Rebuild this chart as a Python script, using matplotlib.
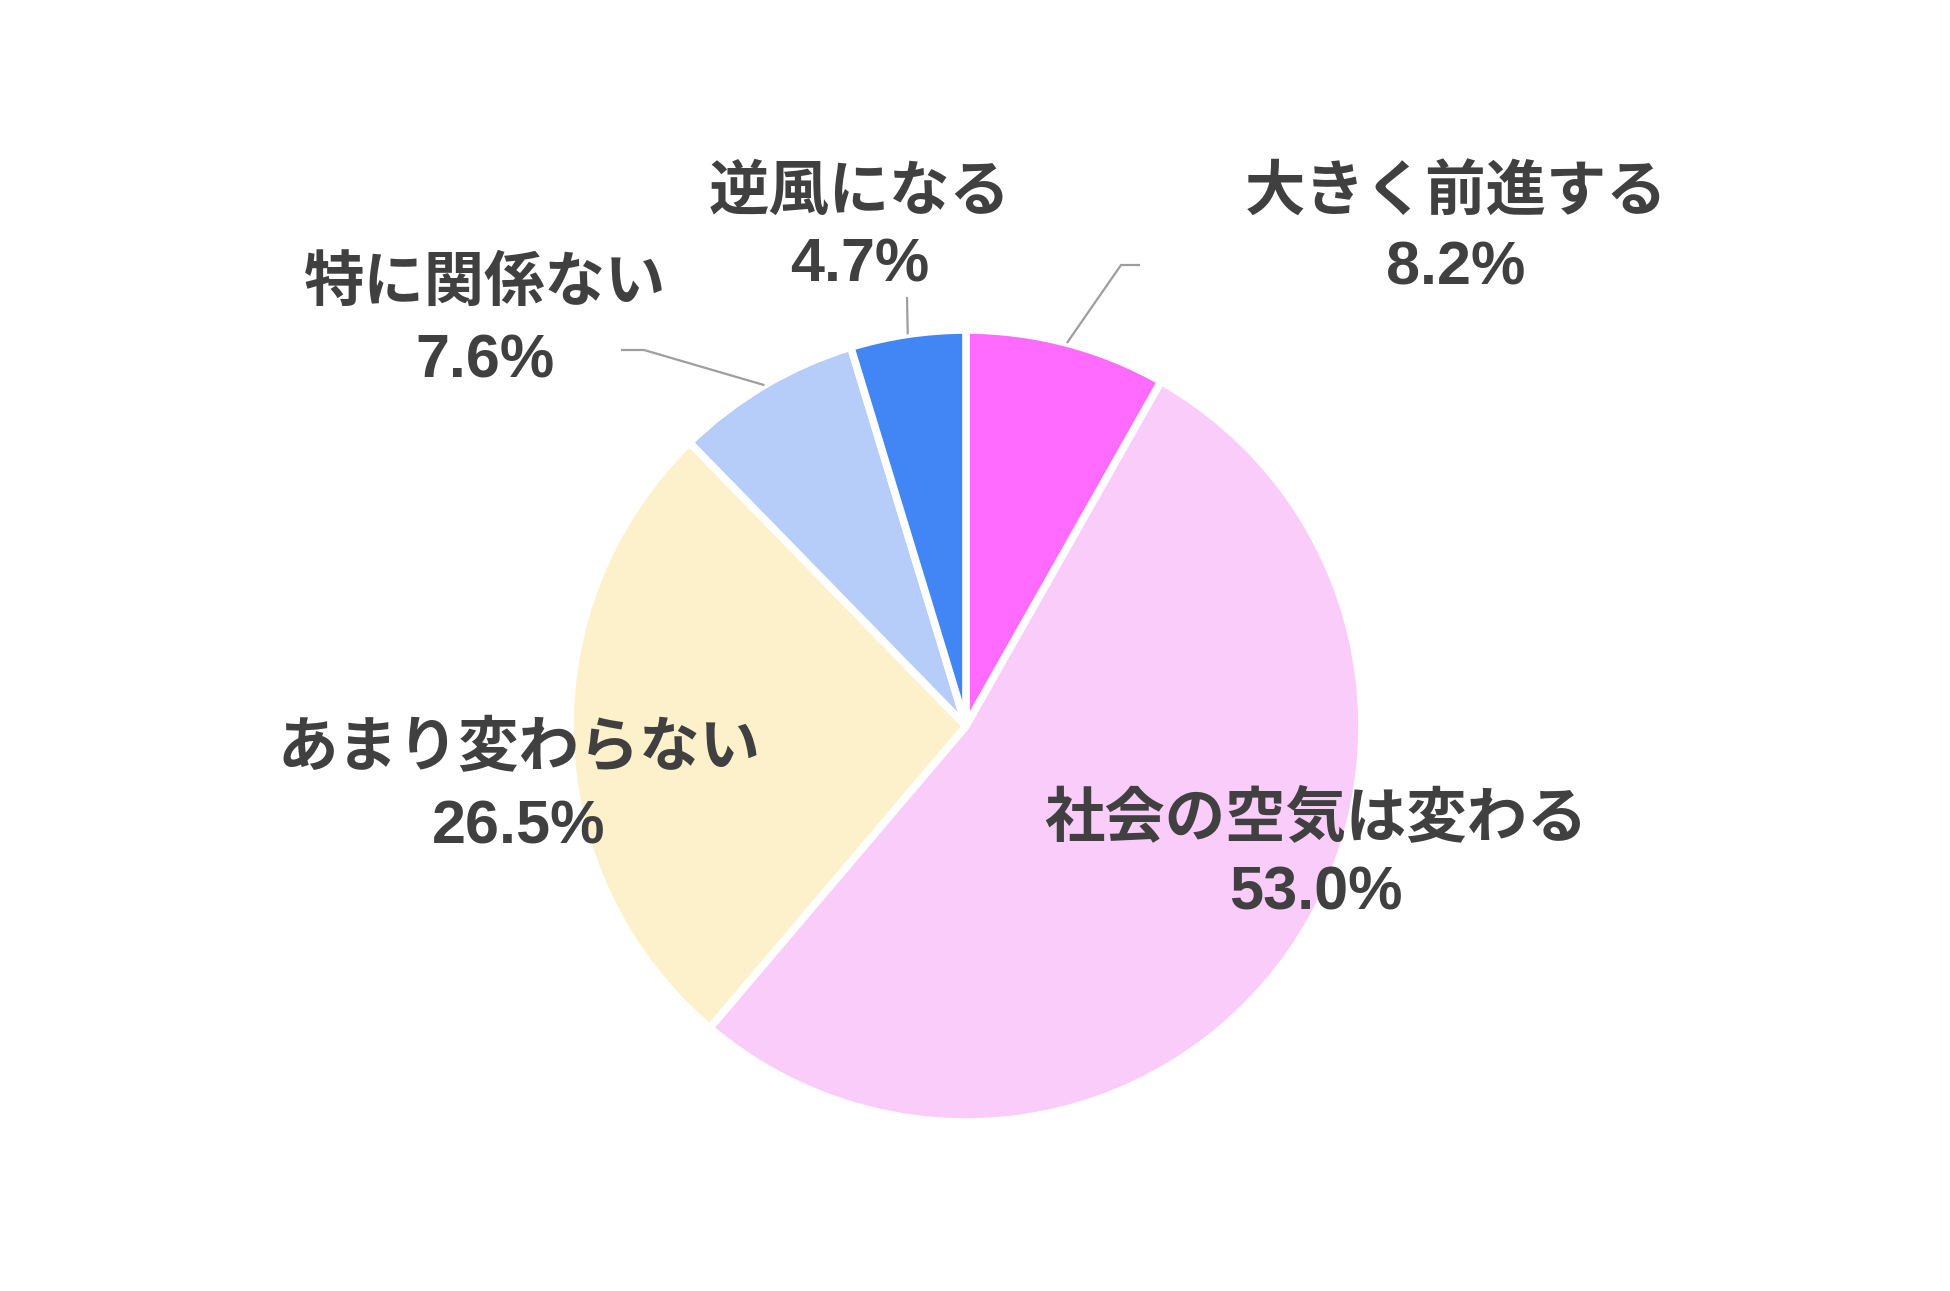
import numpy as np
import matplotlib.pyplot as plt

plt.rcParams['font.family'] = ['Liberation Sans', 'Noto Sans CJK JP', 'DejaVu Sans']

labels = ['大きく前進する', '社会の空気は変わる', 'あまり変わらない', '特に関係ない', '逆風になる']
values = [8.2, 53.0, 26.5, 7.6, 4.7]
colors = ['#FF6BFF', '#FACCFA', '#FDF1CC', '#B5CDF8', '#4285F4']

W, H = 1950, 1291
cx, cy, r = 966, H - 726, 396

# label centres (pixel, y from top) for name line and pct line
label_pos = [(1456, 194, 269), (1316, 819, 894), (519, 750, 828),
             (485, 285, 362), (860, 194, 266)]
# leader lines: elbow point and end point (None = no leader)
leaders = [((1121, 265), (1140, 265)), None, None,
           ((644, 350), (621, 350)), ((907, 297), (907, 297))]

fig = plt.figure(figsize=(W / 100, H / 100), dpi=100)
ax = fig.add_axes([0, 0, 1, 1])
ax.axis('off')

wedges, _ = ax.pie(values, colors=colors, startangle=90, counterclock=False,
                   center=(cx, cy), radius=r,
                   wedgeprops=dict(edgecolor='white', linewidth=5.5,
                                   joinstyle='round'))
ax.set_xlim(0, W)
ax.set_ylim(0, H)
ax.set_aspect('equal')

txt = '#404040'
for i, (lab, val) in enumerate(zip(labels, values)):
    x, y1, y2 = label_pos[i]
    ax.text(x, H - y1, lab, ha='center', va='center', fontsize=43.5,
            fontweight='bold', color=txt)
    ax.text(x, H - y2, f'{val:.1f}%', ha='center', va='center', fontsize=44,
            fontweight='bold', color=txt)
    if leaders[i] is not None:
        w = wedges[i]
        mid = np.deg2rad((w.theta1 + w.theta2) / 2)
        sx, sy = cx + r * np.cos(mid), cy + r * np.sin(mid)
        (ex, ey), (fx, fy) = leaders[i]
        ax.plot([sx, ex, fx], [sy, H - ey, H - fy], color='#9E9E9E', lw=1.6,
                solid_capstyle='butt')

fig.savefig('out.png', dpi=100, facecolor='white')
